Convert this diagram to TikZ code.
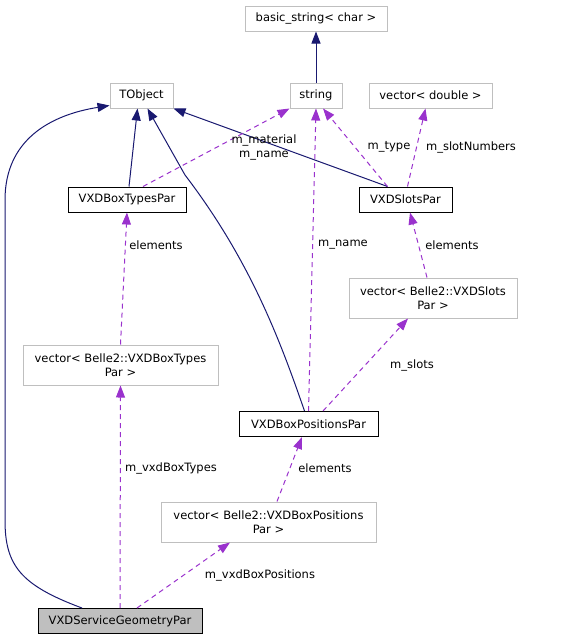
\documentclass[tikz,border=0pt]{standalone}
\usepackage{fontspec}
\setmainfont{DejaVu Sans}
\usetikzlibrary{arrows.meta}
\definecolor{inhblue}{HTML}{191970}
\definecolor{usepurple}{HTML}{9A32CD}
\definecolor{boxgray}{HTML}{BFBFBF}

\begin{document}
\begin{tikzpicture}[x=1pt, y=-1pt, >={Triangle[length=12pt,width=9pt]},
  every node/.style={font=\fontsize{11.5}{14}\selectfont, inner sep=0pt},
  cls/.style={draw=black, line width=1pt, minimum height=25pt, rectangle},
  ext/.style={draw=boxgray, line width=1pt, minimum height=25pt, align=center},
  inh/.style={->, draw=inhblue, line width=1pt},
  use/.style={->, draw=usepurple, line width=1pt, dash pattern=on 5pt off 4pt},
  lbl/.style={align=center}]
  % \draw[gray, very thin, step=50] (0,0) grid (584,640);
  \useasboundingbox (0,0) rectangle (584,640);

  \node[ext, minimum width=142pt] (basicstr) at (316,18.5) {basic\_string< char >};
  \node[ext, minimum width=63pt] (tobj) at (141.5,95.5) {TObject};
  \node[ext, minimum width=52pt] (str) at (316,95.5) {string};
  \node[ext, minimum width=123pt] (vecdbl) at (430.5,95.5) {vector< double >};
  \node[cls, minimum width=118pt] (boxtypes) at (127,199.5) {VXDBoxTypesPar};
  \node[cls, minimum width=93pt] (slots) at (405.5,199.5) {VXDSlotsPar};
  \node[ext, minimum width=168pt, minimum height=40pt] (vecslots) at (433,298) {vector< Belle2::VXDSlots\\Par >};
  \node[ext, minimum width=195pt, minimum height=40pt] (vecboxtypes) at (120.5,365) {vector< Belle2::VXDBoxTypes\\Par >};
  \node[cls, minimum width=139pt] (boxpos) at (308.5,424) {VXDBoxPositionsPar};
  \node[ext, minimum width=215pt, minimum height=40pt] (vecboxpos) at (268.5,522) {vector< Belle2::VXDBoxPositions\\Par >};
  \node[cls, fill=boxgray, minimum width=164pt] (service) at (120,621) {VXDServiceGeometryPar};

  % inheritance
  \draw[inh] (str) -- (basicstr);
  \draw[inh] ([xshift=2pt]boxtypes.north) -- ([xshift=-4pt]tobj.south);
  \draw[inh] ([xshift=-4pt]boxpos.north) .. controls (280,340) and (250,260) .. (185,175) -- ([xshift=6pt]tobj.south);
  \draw[inh] ([xshift=-18pt]slots.north) -- (tobj.south east);
  \draw[inh] ([xshift=-38pt]service.north) .. controls (20,585) and (5,565) .. (5,520) -- (5,200) .. controls (5,140) and (50,115) .. ([yshift=3pt]tobj.south west);

  % usage
  \draw[use] ([xshift=16pt]boxtypes.north) -- (str.south west);
  \node[lbl] (lmatname) at (264,147) {m\_material\\m\_name};
  \draw[use] (boxpos.north) -- (str.south);
  \node[lbl] (lname) at (343,245) {m\_name};
  \draw[use] ([xshift=-18pt]slots.north) -- ([xshift=7pt]str.south);
  \node[lbl] (ltype) at (389,147) {m\_type};
  \draw[use] ([xshift=2pt]slots.north) -- ([xshift=-5pt]vecdbl.south);
  \node[lbl] (lslotnum) at (471,147) {m\_slotNumbers};
  \draw[use] (vecboxtypes.north) -- (boxtypes.south);
  \node[lbl] (lelem1) at (156,245) {elements};
  \draw[use] ([xshift=-6pt]vecslots.north) -- ([xshift=4.5pt]slots.south);
  \node[lbl] (lelem2) at (452,245) {elements};
  \draw[use] ([xshift=14.5pt]boxpos.north) -- ([xshift=-25pt]vecslots.south);
  \node[lbl] (lslots) at (412,365) {m\_slots};
  \draw[use] (service.north) -- (vecboxtypes.south);
  \node[lbl] (lboxtypes) at (171,468) {m\_vxdBoxTypes};
  \draw[use] ([xshift=8.5pt]vecboxpos.north) -- ([xshift=-6.5pt]boxpos.south);
  \node[lbl] (lelem3) at (325,468) {elements};
  \draw[use] ([xshift=17pt]service.north) -- ([xshift=-38.5pt]vecboxpos.south);
  \node[lbl] (lboxpos) at (260,575) {m\_vxdBoxPositions};
\end{tikzpicture}
\end{document}
